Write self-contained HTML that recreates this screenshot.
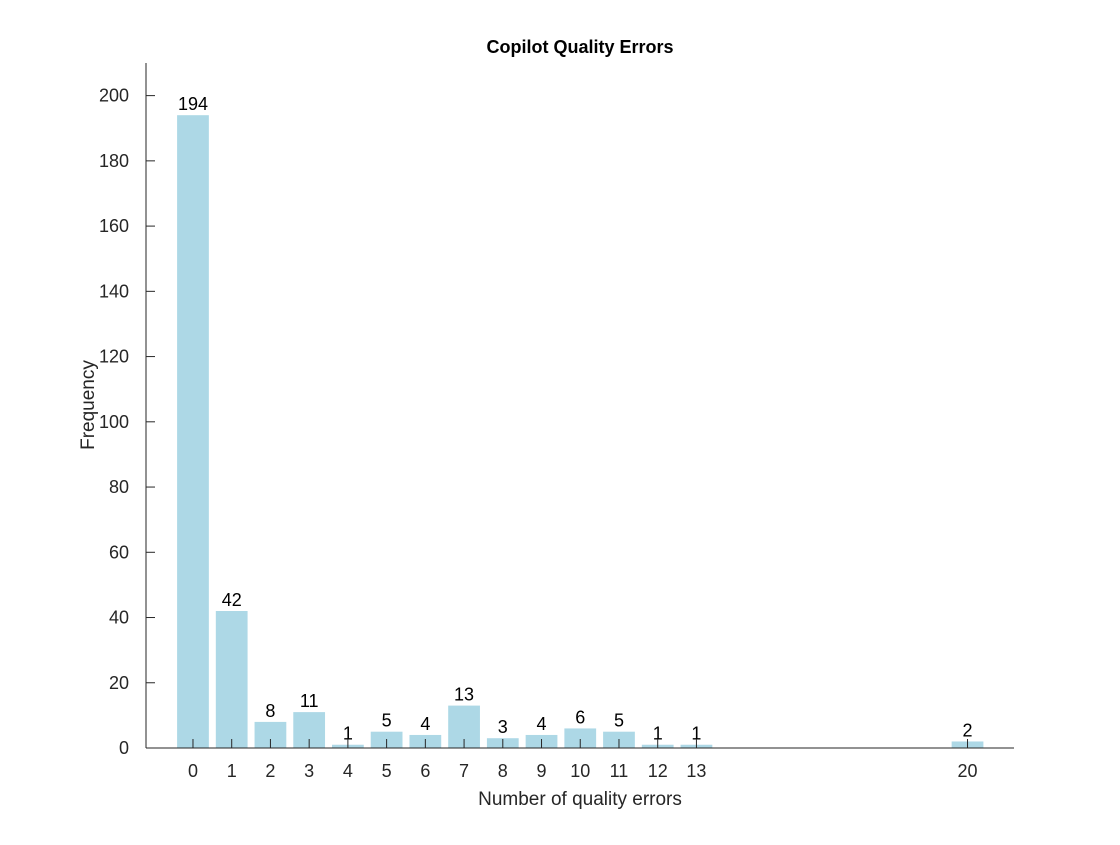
<!DOCTYPE html>
<html><head><meta charset="utf-8"><style>
body{margin:0;background:#fff;}
text{font-family:"Liberation Sans",Helvetica,Arial,sans-serif;}
</style></head><body>
<svg id="chart" width="1120" height="840" xmlns="http://www.w3.org/2000/svg">
<rect width="1120" height="840" fill="#fff"/>
<text x="580" y="53" text-anchor="middle" font-size="18" font-weight="bold" fill="#000">Copilot Quality Errors</text>
<g id="bars"></g>
<g id="axes"></g>
<text x="580" y="805" text-anchor="middle" font-size="19" fill="#262626">Number of quality errors</text>
<text transform="translate(94,405) rotate(-90)" text-anchor="middle" font-size="19" fill="#262626">Frequency</text>
</svg>
<script>
const categories=[0,1,2,3,4,5,6,7,8,9,10,11,12,13,20];
const counts=[194,42,8,11,1,5,4,13,3,4,6,5,1,1,2];
const yTicks=[0,20,40,60,80,100,120,140,160,180,200];
const NS="http://www.w3.org/2000/svg";
const L=146,R=1014,T=63,B=748;
const xMin=-1.213,xMax=21.2,yMax=210;
const xs=v=>L+(v-xMin)/(xMax-xMin)*(R-L);
const ys=v=>B-v/yMax*(B-T);
const bw=0.82*(R-L)/(xMax-xMin);
const bars=document.getElementById('bars'),axes=document.getElementById('axes');
function mk(tag,attrs,parent){const e=document.createElementNS(NS,tag);for(const k in attrs)e.setAttribute(k,attrs[k]);parent.appendChild(e);return e;}
categories.forEach((c,i)=>{
  const r=mk('rect',{x:xs(c)-bw/2,y:ys(counts[i]),width:bw,height:B-ys(counts[i]),fill:'#ADD8E6'},bars);
  
  
  const t=mk('text',{x:xs(c),y:ys(counts[i])-5,'text-anchor':'middle','font-size':'18',fill:'#000'},bars);
  t.textContent=counts[i];
  
  
});
const xa=mk('line',{x1:L,y1:B,x2:R,y2:B,stroke:'#262626','stroke-width':1},axes);


const ya=mk('line',{x1:L,y1:T,x2:L,y2:B,stroke:'#262626','stroke-width':1},axes);


categories.forEach(c=>{
  mk('line',{x1:xs(c),y1:B,x2:xs(c),y2:B-9,stroke:'#262626','stroke-width':1},axes);
  const t=mk('text',{x:xs(c),y:B+29,'text-anchor':'middle','font-size':'18',fill:'#262626'},axes);
  t.textContent=c;
  
  
});
yTicks.forEach(v=>{
  mk('line',{x1:L,y1:ys(v),x2:L+9,y2:ys(v),stroke:'#262626','stroke-width':1},axes);
  const t=mk('text',{x:L-17,y:ys(v)+6,'text-anchor':'end','font-size':'18',fill:'#262626'},axes);
  t.textContent=v;
  
  
});
</script>
</body></html>
